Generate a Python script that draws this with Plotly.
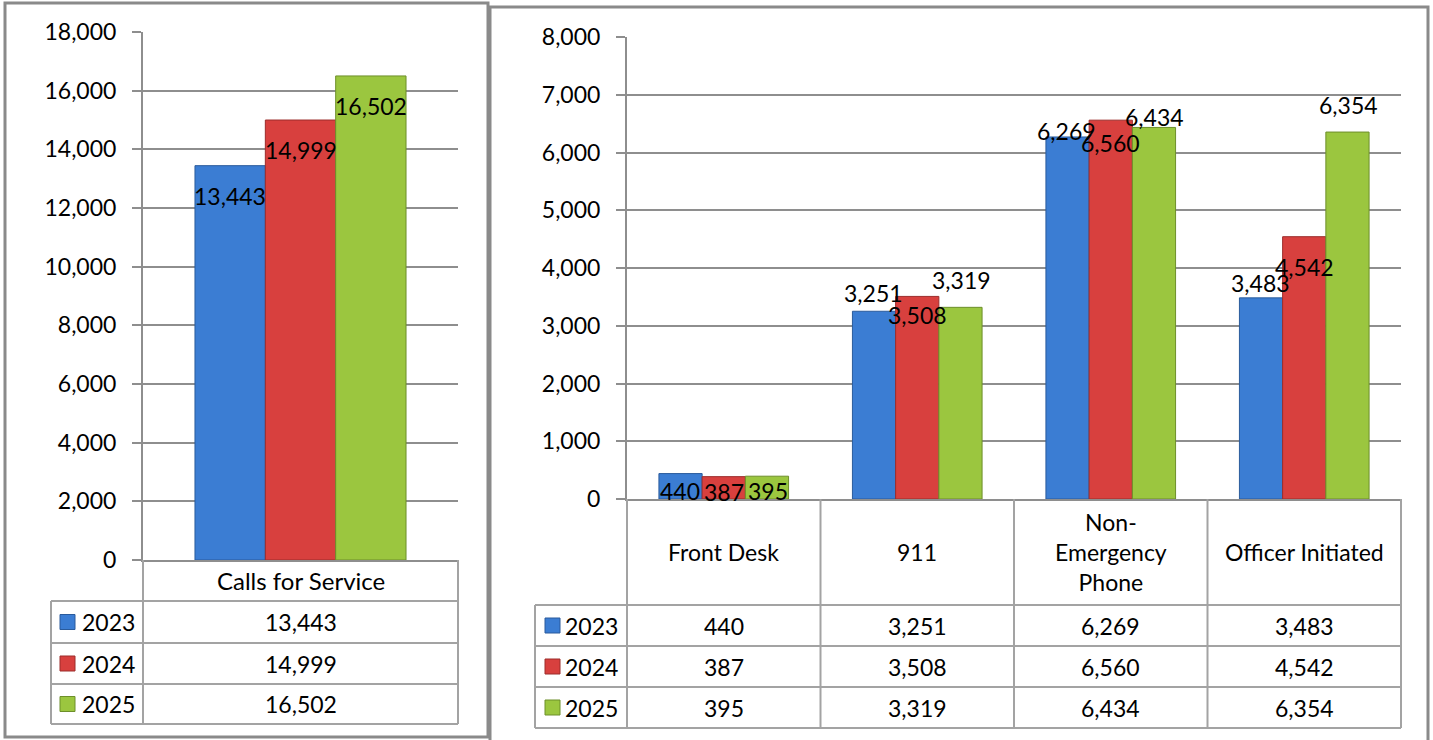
import plotly.graph_objects as go

# ---------------- data ----------------
years = ["2023", "2024", "2025"]

total_categories = ["Calls for Service"]
total_2023 = [13443]
total_2024 = [14999]
total_2025 = [16502]

source_categories = ["Front Desk", "911", "Non-Emergency Phone", "Officer Initiated"]
source_headers = ["Front Desk", "911", "Non-<br>Emergency<br>Phone", "Officer Initiated"]
source_2023 = [440, 3251, 6269, 3483]
source_2024 = [387, 3508, 6560, 4542]
source_2025 = [395, 3319, 6434, 6354]

left_ticks = [0, 2000, 4000, 6000, 8000, 10000, 12000, 14000, 16000, 18000]
right_ticks = [0, 1000, 2000, 3000, 4000, 5000, 6000, 7000, 8000]

# ---------------- style ----------------
W, H = 1433, 740
FONT = "Lato"
FS = 23
colors = ["#3b7dd3", "#d8403e", "#9bc63f"]
edge_colors = ["#2a5b9c", "#9c2c2b", "#6d8f2a"]
GRID = "#8e8e8e"
TABLE = "#a3a3a3"
BORDER = "#8a8a8a"

# pixel layout of the two plot areas
LX0, LX1, LYB, LYT = 143, 458, 560, 32
RX0, RX1, RYB, RYT = 627, 1401, 499, 37
L_BARGAP = 0.33
R_BARGAP = 0.32

# vertical label offsets (px, positive = below bar top) per series, per category
left_label_dy = [[30], [30], [30]]
right_label_dy = [[17, -18, -6, -15],
                  [15, 19, 23, 30],
                  [15, -27, -10, -27]]


def fx(x):
    return x / W


def fy(y):
    return 1 - y / H


left_series = [total_2023, total_2024, total_2025]
right_series = [source_2023, source_2024, source_2025]

fig = go.Figure()

for i, yr in enumerate(years):
    fig.add_trace(go.Bar(
        x=total_categories, y=left_series[i], name=yr,
        marker=dict(color=colors[i], line=dict(color=edge_colors[i], width=1)),
        xaxis="x", yaxis="y", showlegend=False, hoverinfo="y",
    ))
for i, yr in enumerate(years):
    fig.add_trace(go.Bar(
        x=source_categories, y=right_series[i], name=yr,
        marker=dict(color=colors[i], line=dict(color=edge_colors[i], width=1)),
        xaxis="x2", yaxis="y2", showlegend=False, hoverinfo="y",
    ))

annotations = []
shapes = []

# ---- bar value labels (x given as category index on the category axis) ----
left_bar_px = (LX1 - LX0) / len(total_categories) * (1 - L_BARGAP) / 3
for i in range(3):
    for j, cat in enumerate(total_categories):
        v = left_series[i][j]
        annotations.append(dict(
            x=j, y=v, xref="x", yref="y", text=f"{v:,}", showarrow=False,
            xshift=(i - 1) * left_bar_px, yshift=-left_label_dy[i][j],
            font=dict(family=FONT, size=FS, color="black"),
        ))

right_bar_px = (RX1 - RX0) / len(source_categories) * (1 - R_BARGAP) / 3
for i in range(3):
    for j, cat in enumerate(source_categories):
        v = right_series[i][j]
        annotations.append(dict(
            x=j, y=v, xref="x2", yref="y2", text=f"{v:,}", showarrow=False,
            xshift=(i - 1) * right_bar_px, yshift=-right_label_dy[i][j],
            font=dict(family=FONT, size=FS, color="black"),
        ))


def hline(x0, x1, y, color=TABLE, width=2):
    shapes.append(dict(type="line", xref="paper", yref="paper",
                       x0=fx(x0), x1=fx(x1), y0=fy(y), y1=fy(y),
                       line=dict(color=color, width=width)))


def vline(x, y0, y1, color=TABLE, width=2):
    shapes.append(dict(type="line", xref="paper", yref="paper",
                       x0=fx(x), x1=fx(x), y0=fy(y0), y1=fy(y1),
                       line=dict(color=color, width=width)))


def text(x, y, s, anchor="center", size=FS):
    annotations.append(dict(x=fx(x), y=fy(y), xref="paper", yref="paper",
                            text=s, showarrow=False, xanchor=anchor, yanchor="middle",
                            font=dict(family=FONT, size=size, color="black")))


def swatch(x0, y0, size, i):
    shapes.append(dict(type="rect", xref="paper", yref="paper",
                       x0=fx(x0), x1=fx(x0 + size), y0=fy(y0 + size), y1=fy(y0),
                       fillcolor=colors[i], line=dict(color=edge_colors[i], width=1)))


# ---- left data table ----
L_LEG = 51
L_ROWS = [LYB, 601, 643, 684, 724]
vline(LX0, LYB, L_ROWS[-1])
vline(LX1, LYB, L_ROWS[-1])
vline(L_LEG, L_ROWS[1], L_ROWS[-1])
for r in L_ROWS[1:]:
    hline(L_LEG, LX1, r)
lcw = (LX1 - LX0) / len(total_categories)
for j, cat in enumerate(total_categories):
    cx = LX0 + (j + 0.5) * lcw
    text(cx, (L_ROWS[0] + L_ROWS[1]) / 2, cat, size=24)
    for i in range(3):
        text(cx, (L_ROWS[i + 1] + L_ROWS[i + 2]) / 2, f"{left_series[i][j]:,}")
for i, yr in enumerate(years):
    cy = (L_ROWS[i + 1] + L_ROWS[i + 2]) / 2
    swatch(60, cy - 7.5, 15, i)
    text(80, cy, yr, anchor="left")

# ---- right data table ----
R_LEG = 535
R_ROWS = [RYB, 605, 646, 687, 728]
rcw = (RX1 - RX0) / len(source_categories)
for k in range(len(source_categories) + 1):
    vline(RX0 + k * rcw, RYB, R_ROWS[-1])
vline(R_LEG, R_ROWS[1], R_ROWS[-1])
for r in R_ROWS[1:]:
    hline(R_LEG, RX1, r)
for j, hdr in enumerate(source_headers):
    cx = RX0 + (j + 0.5) * rcw
    text(cx, (R_ROWS[0] + R_ROWS[1]) / 2, hdr)
    for i in range(3):
        text(cx, (R_ROWS[i + 1] + R_ROWS[i + 2]) / 2, f"{right_series[i][j]:,}")
for i, yr in enumerate(years):
    cy = (R_ROWS[i + 1] + R_ROWS[i + 2]) / 2
    swatch(545, cy - 7.5, 15, i)
    text(563, cy, yr, anchor="left")

# ---- panel borders ----
shapes.append(dict(type="rect", xref="paper", yref="paper",
                   x0=fx(5), x1=fx(488), y0=fy(737), y1=fy(3),
                   line=dict(color=BORDER, width=3)))
shapes.append(dict(type="rect", xref="paper", yref="paper",
                   x0=fx(490), x1=fx(1428), y0=fy(745), y1=fy(7),
                   line=dict(color=BORDER, width=3)))

axis_common = dict(
    showgrid=True, gridcolor=GRID, gridwidth=2,
    showline=True, linecolor=GRID, linewidth=2,
    ticks="outside", ticklen=9, tickcolor=GRID, tickwidth=2,
    tickformat=",", zeroline=False, automargin=False,
    tickfont=dict(family=FONT, size=FS, color="black"),
)
cat_axis = dict(type="category", showticklabels=False, showgrid=False, automargin=False,
                showline=True, linecolor=GRID, linewidth=2, ticks="", zeroline=False)

fig.update_layout(
    template="none",
    width=W, height=H, autosize=False,
    margin=dict(l=0, r=0, t=0, b=0, pad=0, autoexpand=False),
    paper_bgcolor="white", plot_bgcolor="white",
    font=dict(family=FONT, size=FS, color="black"),
    barmode="group",
    showlegend=False,
    xaxis=dict(domain=[fx(LX0), fx(LX1)], anchor="y",
               range=[-0.5, len(total_categories) - 0.5], **cat_axis),
    yaxis=dict(domain=[fy(LYB), fy(LYT)], anchor="x", range=[0, 18000],
               tickvals=left_ticks, ticklabelstandoff=11, **axis_common),
    xaxis2=dict(domain=[fx(RX0), fx(RX1)], anchor="y2",
                range=[-0.5, len(source_categories) - 0.5], **cat_axis),
    yaxis2=dict(domain=[fy(RYB), fy(RYT)], anchor="x2", range=[0, 8000],
                tickvals=right_ticks, ticklabelstandoff=11, **axis_common),
    bargap=L_BARGAP,
    annotations=annotations,
    shapes=shapes,
)

fig.write_html(
    "out.html",
    config={"displayModeBar": False},
    post_script="document.body.style.margin='0';document.body.style.overflow='hidden';",
)
